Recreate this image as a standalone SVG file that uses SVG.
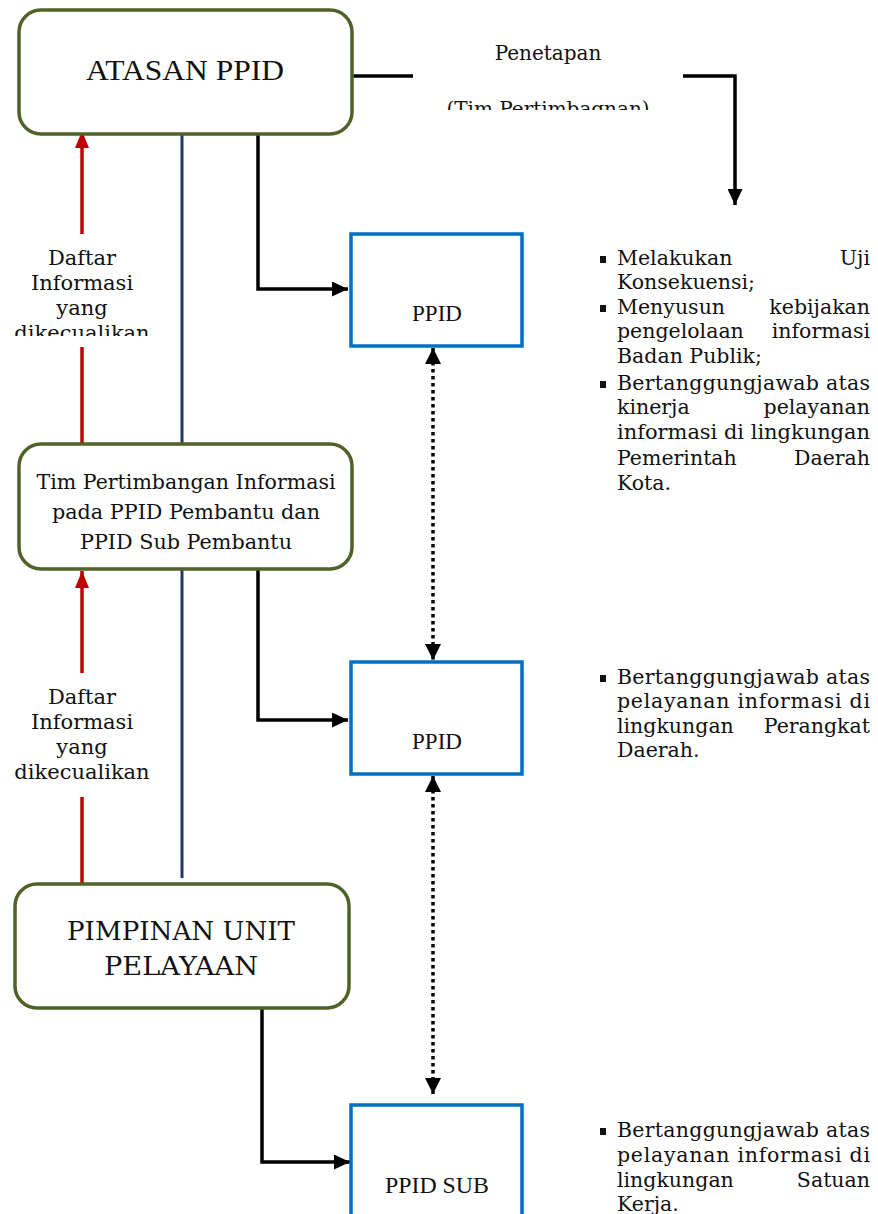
<svg xmlns="http://www.w3.org/2000/svg" width="878" height="1214" viewBox="0 0 878 1214">
<style>
.rbox{fill:#fff;stroke:#4f6228;stroke-width:3.5}
.bbox{fill:#fff;stroke:#0070c0;stroke-width:3.5}
.t{font-family:"DejaVu Serif","Liberation Serif",serif;fill:#111}
.ts{font-family:"Liberation Serif","Times New Roman",serif;fill:#111}
.red{stroke:#c00000;stroke-width:3.5;fill:none}
.navy{stroke:#1f3864;stroke-width:3;fill:none}
.blk{stroke:#000;stroke-width:3.5;fill:none}
.dot{stroke:#000;stroke-width:3.5;fill:none;stroke-dasharray:3.5 3.5}
.li{font-family:"DejaVu Serif","Liberation Serif",serif;font-size:20.5px;fill:#111}
</style>
<defs>
<marker id="ared" markerUnits="userSpaceOnUse" markerWidth="18" markerHeight="15" refX="17" refY="7" orient="auto"><path d="M0,0 L17,7 L0,14 Z" fill="#c00000"/></marker>
<marker id="ablk" markerUnits="userSpaceOnUse" markerWidth="17" markerHeight="15" refX="16" refY="7.5" orient="auto"><path d="M0,0 L16,7.5 L0,15 Z" fill="#000"/></marker>
<marker id="ablkS" markerUnits="userSpaceOnUse" markerWidth="17" markerHeight="16" refX="16" refY="8" orient="auto-start-reverse"><path d="M0,0 L16,8 L0,16 Z" fill="#000"/></marker>
<clipPath id="c1"><rect x="400" y="0" width="300" height="110"/></clipPath>
<clipPath id="c2"><rect x="0" y="230" width="170" height="106"/></clipPath>
</defs>

<g id="connectors">
<path class="blk" d="M352,76 H413" stroke-width="4.5"/>
<path class="blk" d="M683,76 H735 V205" stroke-width="4.5" marker-end="url(#ablk)"/>
<path class="red" d="M82,234 V131" marker-end="url(#ared)"/>
<path class="red" d="M82,347 V444"/>
<path class="navy" d="M182,134 V444"/>
<path class="blk" d="M258,134 V289 H348" marker-end="url(#ablk)"/>
<path class="dot" d="M433,348 V660" marker-start="url(#ablkS)" marker-end="url(#ablkS)"/>
<path class="red" d="M82,673 V571" marker-end="url(#ared)"/>
<path class="red" d="M82,797 V884"/>
<path class="navy" d="M182,570 V878"/>
<path class="blk" d="M258,569 V720 H348" marker-end="url(#ablk)"/>
<path class="dot" d="M433,776 V1094" marker-start="url(#ablkS)" marker-end="url(#ablkS)"/>
<path class="blk" d="M262,1008 V1162 H350" marker-end="url(#ablk)"/>
</g>

<g id="label-penetapan">
<text class="t" x="548" y="60" font-size="20" text-anchor="middle">Penetapan</text>
<text class="t" x="548" y="116" font-size="20" text-anchor="middle" clip-path="url(#c1)">(Tim Pertimbagnan)</text>
</g>

<g id="label-daftar1" class="t" font-size="21" text-anchor="middle">
<text x="82" y="265">Daftar</text>
<text x="82" y="290">Informasi</text>
<text x="82" y="315">yang</text>
<text x="82" y="340" clip-path="url(#c2)">dikecualikan</text>
</g>

<g id="label-daftar2" class="t" font-size="21" text-anchor="middle">
<text x="82" y="704">Daftar</text>
<text x="82" y="729">Informasi</text>
<text x="82" y="754">yang</text>
<text x="82" y="779">dikecualikan</text>
</g>

<g id="atasan">
<rect class="rbox" x="19" y="10" width="333" height="124" rx="22"/>
<text class="ts" x="185" y="80" font-size="29" text-anchor="middle" textLength="198" lengthAdjust="spacingAndGlyphs">ATASAN PPID</text>
</g>

<g id="tim">
<rect class="rbox" x="19" y="444" width="333" height="125" rx="22"/>
<text class="t" x="186" y="489" font-size="20.5" text-anchor="middle" textLength="299" lengthAdjust="spacingAndGlyphs">Tim Pertimbangan Informasi</text>
<text class="t" x="186" y="519" font-size="20.5" text-anchor="middle" textLength="268" lengthAdjust="spacingAndGlyphs">pada PPID Pembantu dan</text>
<text class="t" x="186" y="549" font-size="20.5" text-anchor="middle" textLength="212" lengthAdjust="spacingAndGlyphs">PPID Sub Pembantu</text>
</g>

<g id="pimpinan">
<rect class="rbox" x="15" y="884" width="334" height="124" rx="22"/>
<text class="t" x="181" y="940" font-size="26" text-anchor="middle" textLength="228" lengthAdjust="spacingAndGlyphs">PIMPINAN UNIT</text>
<text class="t" x="181" y="975" font-size="26" text-anchor="middle" textLength="154" lengthAdjust="spacingAndGlyphs">PELAYAAN</text>
</g>

<g id="ppid1">
<rect class="bbox" x="351" y="234" width="171" height="112"/>
<text class="ts" x="437" y="321" font-size="23" text-anchor="middle">PPID</text>
</g>

<g id="ppid2">
<rect class="bbox" x="351" y="662" width="171" height="112"/>
<text class="ts" x="437" y="749" font-size="23" text-anchor="middle">PPID</text>
</g>

<g id="ppidsub">
<rect class="bbox" x="351" y="1105" width="171" height="130"/>
<text class="ts" x="437" y="1193" font-size="23" text-anchor="middle" textLength="104" lengthAdjust="spacingAndGlyphs">PPID SUB</text>
</g>

<g id="list1" class="li">
<rect x="600" y="256" width="6" height="7" fill="#111"/>
<text x="617" y="265">Melakukan</text><text x="870" y="265" text-anchor="end">Uji</text>
<text x="617" y="289">Konsekuensi;</text>
<rect x="600" y="305" width="6" height="7" fill="#111"/>
<text x="617" y="314">Menyusun</text><text x="870" y="314" text-anchor="end">kebijakan</text>
<text x="617" y="338">pengelolaan</text><text x="870" y="338" text-anchor="end">informasi</text>
<text x="617" y="363">Badan Publik;</text>
<rect x="600" y="381" width="6" height="7" fill="#111"/>
<text x="617" y="390" textLength="253" lengthAdjust="spacing">Bertanggungjawab atas</text>
<text x="617" y="414">kinerja</text><text x="870" y="414" text-anchor="end">pelayanan</text>
<text x="617" y="439" textLength="253" lengthAdjust="spacingAndGlyphs">informasi di lingkungan</text>
<text x="617" y="465">Pemerintah</text><text x="870" y="465" text-anchor="end">Daerah</text>
<text x="617" y="490">Kota.</text>
</g>

<g id="list2" class="li">
<rect x="600" y="675" width="6" height="7" fill="#111"/>
<text x="617" y="684" textLength="253" lengthAdjust="spacing">Bertanggungjawab atas</text>
<text x="617" y="708" textLength="253" lengthAdjust="spacing">pelayanan informasi di</text>
<text x="617" y="733">lingkungan</text><text x="870" y="733" text-anchor="end">Perangkat</text>
<text x="617" y="757">Daerah.</text>
</g>

<g id="list3" class="li">
<rect x="600" y="1128" width="6" height="7" fill="#111"/>
<text x="617" y="1137" textLength="253" lengthAdjust="spacing">Bertanggungjawab atas</text>
<text x="617" y="1162" textLength="253" lengthAdjust="spacing">pelayanan informasi di</text>
<text x="617" y="1187">lingkungan</text><text x="870" y="1187" text-anchor="end">Satuan</text>
<text x="617" y="1211">Kerja.</text>
</g>
</svg>
